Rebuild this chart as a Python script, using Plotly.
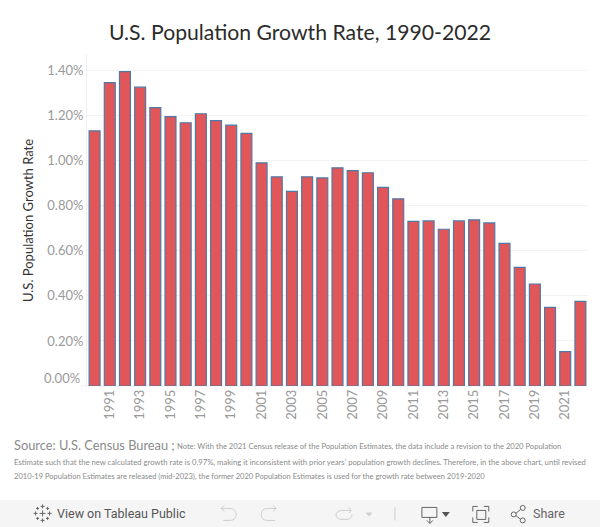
import plotly.graph_objects as go

years = list(range(1990, 2023))
growth = [1.133, 1.347, 1.396, 1.327, 1.236, 1.196, 1.169, 1.209, 1.178, 1.158, 1.122,
          0.991, 0.929, 0.864, 0.929, 0.924, 0.969, 0.956, 0.947, 0.882, 0.831,
          0.731, 0.733, 0.696, 0.733, 0.738, 0.724, 0.633, 0.527, 0.453, 0.349, 0.153, 0.376]
y_ticks = [0.2, 0.4, 0.6, 0.8, 1.0, 1.2, 1.4]
x_ticks = list(range(1991, 2022, 2))
FONT = "Lato"
NOTE = ("Note: With the 2021 Census release of the Population Estimates, the data include a revision to the 2020 Population",
        "Estimate such that the new calculated growth rate is 0.97%, making it inconsistent with prior years' population growth declines. Therefore, in the above chart, until revised",
        "2010-19 Population Estimates are released (mid-2023), the former 2020 Population Estimates is used for the growth rate between 2019-2020")

L, R, T, B = 86.5, 588.4, 55.0, 385.7
W = R - L
H = B - T

fig = go.Figure(go.Bar(
    x=years, y=growth, width=0.72,
    marker=dict(color="#e15759", line=dict(color="#4e79a7", width=1.2)),
    hovertemplate="%{x}: %{y:.2f}%<extra></extra>",
))
fig.update_layout(
    width=600, height=527, autosize=False,
    margin=dict(l=L, r=600 - R, t=T, b=527 - B),
    paper_bgcolor="white", plot_bgcolor="white",
    font=dict(family=FONT, color="#888888"),
    showlegend=False,
    title=dict(text="U.S. Population Growth Rate, 1990-2022", x=0.5, xanchor="center", y=0.938, yanchor="middle",
               font=dict(family=FONT, size=21.2, color="#2b2b2b")),
    xaxis=dict(range=[1989.5, 2022.5], tickmode="array", tickvals=x_ticks, ticktext=[str(v) for v in x_ticks],
               tickangle=-90, tickfont=dict(size=13, color="#9a9a9a"), showgrid=False, ticks="", ticklen=0,
               showline=False, zeroline=False),
    yaxis=dict(range=[0, H / 225], tickmode="array", tickvals=y_ticks, ticktext=[f"{v:.2f}%" for v in y_ticks],
               tickfont=dict(size=13, color="#9a9a9a"), showgrid=True, gridcolor="#f3f3f3", gridwidth=1,
               ticks="", showline=True, linecolor="#f0f0f0", linewidth=1, zeroline=False,
               title=dict(text="U.S. Population Growth Rate", font=dict(size=13, color="#333333"), standoff=10)),
)

def px(x): return (x - L) / W
def py(y): return (B - y) / H

def text(x, y, s, size, color="#888888", family=FONT):
    fig.add_annotation(xref="paper", yref="paper", x=px(x), y=py(y), text=s,
                       showarrow=False, xanchor="left", yanchor="middle", align="left", xshift=-1,
                       font=dict(family=family, size=size, color=color))

# Tableau nudges the zero label above the baseline
fig.add_annotation(xref="paper", yref="y", x=0, y=0, yshift=8, xshift=-5, text="0.00%", showarrow=False,
                   xanchor="right", yanchor="middle", font=dict(size=13, color="#9a9a9a"))

text(12, 445, "Source: U.S. Census Bureau ;", 12.8, "#8a8a8a")
text(176, 446, NOTE[0], 7.6, "#8a8a8a")
text(12, 461.5, NOTE[1], 7.7, "#8a8a8a")
text(12, 476, NOTE[2], 7.55, "#8a8a8a")

# Baseline reaches slightly into the label gutter
fig.add_shape(type="line", xref="paper", yref="paper", x0=px(80.5), x1=1, y0=0, y1=0,
              line=dict(color="#eeeeee", width=1), layer="below")

# Toolbar
def line(x0, y0, x1, y1, color="#666666", w=1):
    fig.add_shape(type="line", xref="paper", yref="paper", x0=px(x0), y0=py(y0), x1=px(x1), y1=py(y1),
                  line=dict(color=color, width=w), layer="above")
def rect(x0, y0, x1, y1, fill="rgba(0,0,0,0)", color="#666666", w=1):
    fig.add_shape(type="rect", xref="paper", yref="paper", x0=px(x0), y0=py(y0), x1=px(x1), y1=py(y1),
                  fillcolor=fill, line=dict(color=color, width=w), layer="above")
def circle(cx, cy, r, color="#666666"):
    fig.add_shape(type="circle", xref="paper", yref="paper", x0=px(cx - r), y0=py(cy - r), x1=px(cx + r), y1=py(cy + r),
                  line=dict(color=color, width=1), layer="above")
def tri(cx, cy, w, h, color):
    path = f"M {px(cx - w / 2)} {py(cy - h / 2)} L {px(cx + w / 2)} {py(cy - h / 2)} L {px(cx)} {py(cy + h / 2)} Z"
    fig.add_shape(type="path", xref="paper", yref="paper", path=path, fillcolor=color, line=dict(width=0), layer="above")
def curve(points, color):
    a = points
    path = f"M {px(a[0][0])} {py(a[0][1])} C {px(a[1][0])} {py(a[1][1])}, {px(a[2][0])} {py(a[2][1])}, {px(a[3][0])} {py(a[3][1])}"
    fig.add_shape(type="path", xref="paper", yref="paper", path=path, line=dict(color=color, width=1), layer="above")

rect(0, 500, 600, 527, fill="#f5f5f5", color="#f5f5f5")
text(55, 513.5, "View on Tableau Public", 12.5, "#555555", family="Roboto")
text(532, 513.5, "Share", 12.5, "#666666", family="Roboto")
# Tableau logo
for cx, cy, r in [(42, 513, 3), (42, 506, 2), (42, 520, 2), (35, 513, 2), (49, 513, 2), (37, 508, 1.5), (47, 508, 1.5), (37, 518, 1.5), (47, 518, 1.5)]:
    line(cx - r, cy, cx + r, cy)
    line(cx, cy - r, cx, cy + r)
# Undo / redo
c = "#cfcfcf"
line(221, 508, 230, 508, c); line(221, 508, 224, 505, c); line(221, 508, 224, 511, c)
curve([(230, 508), (238, 508), (238, 520), (230, 520)], c); line(230, 520, 223, 520, c)
line(276, 508, 267, 508, c); line(276, 508, 273, 505, c); line(276, 508, 273, 511, c)
curve([(267, 508), (259, 508), (259, 520), (267, 520)], c); line(267, 520, 275, 520, c)
# Revert
line(351, 510, 342, 510, c); line(351, 510, 349, 507, c); line(351, 510, 349, 513, c)
curve([(342, 510), (334, 510), (334, 519), (342, 519)], c); line(342, 519, 346, 519, c)
curve([(346, 519), (350, 519), (352, 517), (352, 514)], c)
tri(369, 514, 7, 4, "#cfcfcf")
line(395, 507, 395, 520, "#cccccc")
# Download
rect(422, 507, 437, 517); line(430, 517, 430, 523); line(427, 520, 430, 523); line(433, 520, 430, 523)
tri(446, 514, 8, 5, "#555555")
# Fullscreen
rect(477, 510, 486, 519)
for a, b, d, e in [(473, 506, 478, 506), (473, 506, 473, 511), (489, 506, 484, 506), (489, 506, 489, 511),
                   (473, 522, 478, 522), (473, 522, 473, 517), (489, 522, 484, 522), (489, 522, 489, 517)]:
    line(a, b, d, e)
# Share
circle(514, 514, 2.5); circle(523, 507.5, 2.5); circle(523, 520, 2.5)
line(516, 513, 521, 509); line(516, 515, 521, 519)

fig.write_html("out.html", config=dict(displayModeBar=False),
               post_script="document.body.style.margin='0';document.body.style.overflow='hidden';")
